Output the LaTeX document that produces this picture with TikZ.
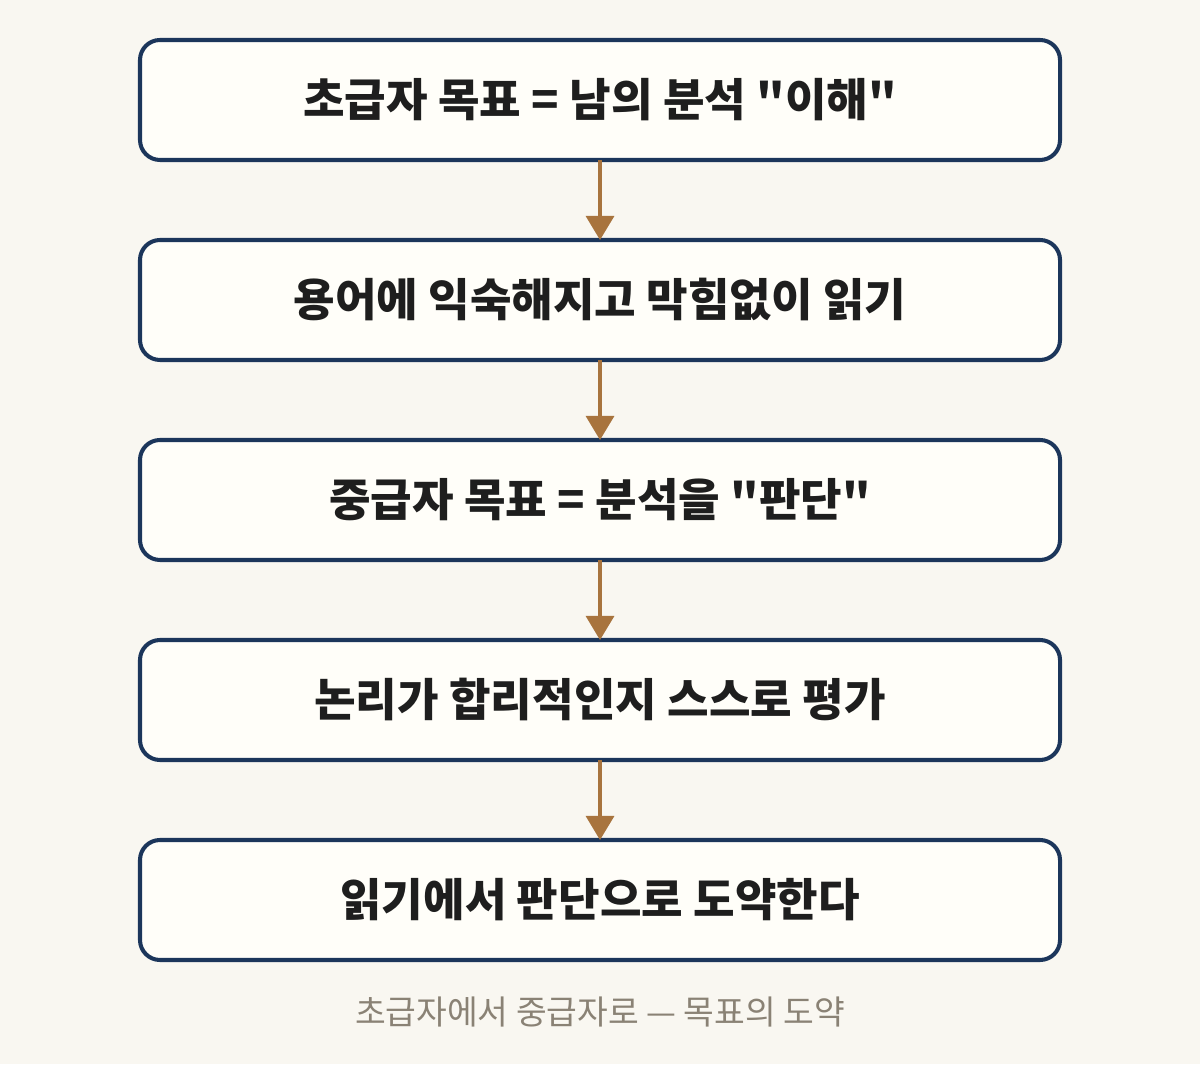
\documentclass[tikz,border=0pt]{standalone}
\usepackage{fontspec}
\newfontfamily\kr{Noto Sans CJK KR}
\usetikzlibrary{arrows.meta, positioning}
\definecolor{bgcol}{HTML}{F9F7F1}
\definecolor{boxfill}{HTML}{FFFEF9}
\definecolor{navy}{HTML}{1C365B}
\definecolor{brown}{HTML}{A8743E}
\definecolor{textcol}{HTML}{1E1E1E}
\definecolor{capcol}{HTML}{8A8275}
\begin{document}
\begin{tikzpicture}[
    node distance=1.6cm, % khoảng cách giữa các hộp
    box/.style={
      rectangle,
      rounded corners=0.4cm,
      minimum height=2.4cm,
      minimum width=18.4cm,
      outer sep=0pt,
      fill=boxfill,
      draw=navy,
      line width=2.3pt,
      align=center,
      text=textcol,
      font=\kr\bfseries\fontsize{25.7}{30}\selectfont
    },
    arrow/.style={
      -{Triangle[width=0.56cm, length=0.48cm]},
      draw=brown,
      line width=1.8pt
    }
  ]

  % Nền
  \fill[bgcol] (0,0) rectangle (24,21.28);
  \useasboundingbox (0,0) rectangle (24,21.28);

  % Các hộp
  \node[box] (beginner) at (12,19.28) {초급자 목표 = 남의 분석 "이해"};
  \node[box, below=of beginner] (terms) {용어에 익숙해지고 막힘없이 읽기};
  \node[box, below=of terms] (middle) {중급자 목표 = 분석을 "판단"};
  \node[box, below=of middle] (logic) {논리가 합리적인지 스스로 평가};
  \node[box, below=of logic] (leap) {읽기에서 판단으로 도약한다};

  % Các mũi tên
  \draw[arrow] (beginner) -- (terms);
  \draw[arrow] (terms) -- (middle);
  \draw[arrow] (middle) -- (logic);
  \draw[arrow] (logic) -- (leap);

  % Chú thích
  \node[text=capcol, font=\kr\fontsize{19}{23}\selectfont] (caption) at (12,1.04) {초급자에서 중급자로 — 목표의 도약};

\end{tikzpicture}
\end{document}
